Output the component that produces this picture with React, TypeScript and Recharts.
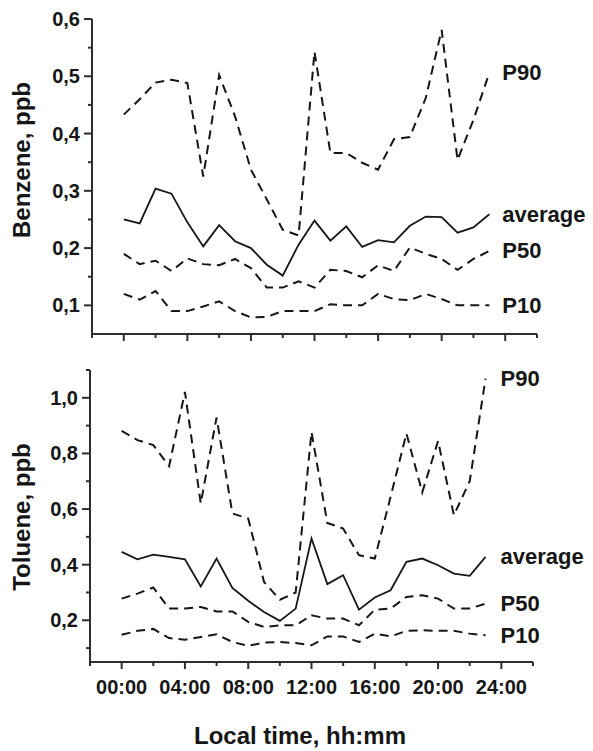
import React from 'react';
import { LineChart, Line, XAxis, YAxis, Label } from 'recharts';

const hours = [0, 1, 2, 3, 4, 5, 6, 7, 8, 9, 10, 11, 12, 13, 14, 15, 16, 17, 18, 19, 20, 21, 22, 23];

const benzeneP90 = [0.433, 0.46, 0.489, 0.494, 0.488, 0.325, 0.502, 0.43, 0.337, 0.285, 0.232, 0.222, 0.543, 0.366, 0.366, 0.349, 0.337, 0.39, 0.394, 0.462, 0.581, 0.354, 0.424, 0.506];
const benzeneAvg = [0.25, 0.243, 0.304, 0.295, 0.245, 0.203, 0.24, 0.212, 0.2, 0.171, 0.152, 0.206, 0.248, 0.213, 0.238, 0.202, 0.214, 0.21, 0.239, 0.255, 0.254, 0.227, 0.236, 0.259];
const benzeneP50 = [0.19, 0.172, 0.178, 0.16, 0.182, 0.172, 0.17, 0.181, 0.165, 0.131, 0.131, 0.142, 0.131, 0.162, 0.16, 0.149, 0.17, 0.16, 0.201, 0.19, 0.181, 0.162, 0.181, 0.195];
const benzeneP10 = [0.12, 0.11, 0.125, 0.09, 0.09, 0.098, 0.107, 0.09, 0.079, 0.08, 0.09, 0.09, 0.09, 0.102, 0.1, 0.1, 0.12, 0.111, 0.109, 0.12, 0.111, 0.1, 0.1, 0.1];

const tolueneP90 = [0.881, 0.848, 0.83, 0.754, 1.021, 0.62, 0.929, 0.584, 0.566, 0.338, 0.274, 0.3, 0.877, 0.55, 0.53, 0.434, 0.422, 0.644, 0.872, 0.66, 0.845, 0.578, 0.7, 1.069];
const tolueneAvg = [0.446, 0.419, 0.436, 0.428, 0.419, 0.322, 0.422, 0.316, 0.27, 0.23, 0.198, 0.242, 0.494, 0.33, 0.362, 0.238, 0.282, 0.308, 0.41, 0.422, 0.398, 0.368, 0.36, 0.428];
const tolueneP50 = [0.278, 0.296, 0.318, 0.242, 0.242, 0.248, 0.232, 0.232, 0.194, 0.176, 0.182, 0.182, 0.218, 0.206, 0.206, 0.182, 0.238, 0.242, 0.284, 0.29, 0.278, 0.242, 0.242, 0.26];
const tolueneP10 = [0.148, 0.162, 0.169, 0.136, 0.13, 0.14, 0.15, 0.122, 0.108, 0.12, 0.122, 0.118, 0.11, 0.142, 0.142, 0.122, 0.152, 0.142, 0.162, 0.164, 0.162, 0.162, 0.152, 0.146];

// x ticks every 2 h, labels every 4 h
const xTicks = [-2, 0, 2, 4, 6, 8, 10, 12, 14, 16, 18, 20, 22, 24, 26];
const xLabels = ['00:00', '04:00', '08:00', '12:00', '16:00', '20:00', '24:00'];
const xLabelHours = [0, 4, 8, 12, 16, 20, 24];

const benzeneTicks = [0.1, 0.15, 0.2, 0.25, 0.3, 0.35, 0.4, 0.45, 0.5, 0.55, 0.6];
const benzeneMajor = [0.1, 0.2, 0.3, 0.4, 0.5, 0.6];
const tolueneTicks = [0.1, 0.2, 0.3, 0.4, 0.5, 0.6, 0.7, 0.8, 0.9, 1.0, 1.1];
const tolueneMajor = [0.2, 0.4, 0.6, 0.8, 1.0];

const seriesNames = ['P90', 'average', 'P50', 'P10'];

const INK = '#161616';
const AXIS = '#2e2e2e';
const FONT = "'Liberation Sans', Arial, Helvetica, sans-serif";

const fmt = (v: number) => v.toFixed(1).replace('.', ',');

const makeRows = (p90: number[], avg: number[], p50: number[], p10: number[]) =>
  hours.map((h, i) => ({ hour: h, p90: p90[i], avg: avg[i], p50: p50[i], p10: p10[i] }));

const benzeneData = makeRows(benzeneP90, benzeneAvg, benzeneP50, benzeneP10);
const tolueneData = makeRows(tolueneP90, tolueneAvg, tolueneP50, tolueneP10);

const YTick = ({ x, y, payload, major }: any) => {
  const isMajor = major.includes(payload.value);
  return (
    <g>
      <line x1={x - (isMajor ? 8 : 4)} x2={x} y1={y} y2={y} stroke={AXIS} strokeWidth={2} />
      {isMajor && (
        <text x={x - 12} y={y} textAnchor="end" dominantBaseline="central"
          fontFamily={FONT} fontWeight="bold" fontSize={20} fill={INK}>
          {fmt(payload.value)}
        </text>
      )}
    </g>
  );
};

const XTick = ({ x, y, payload, showLabels }: any) => {
  const idx = xLabelHours.indexOf(payload.value);
  const isMajor = idx >= 0;
  return (
    <g>
      <line x1={x} x2={x} y1={y} y2={y + (isMajor ? 7 : 4)} stroke={AXIS} strokeWidth={2} />
      {isMajor && showLabels && (
        <text x={x} y={y + 25} textAnchor="middle" dominantBaseline="central"
          fontFamily={FONT} fontWeight="bold" fontSize={20} fill={INK}>
          {xLabels[idx]}
        </text>
      )}
    </g>
  );
};

const endLabel = (text: string, dx: number) => (props: any) => {
  if (props.index !== hours.length - 1) return null;
  const x = props.x ?? props.viewBox?.x;
  const y = props.y ?? props.viewBox?.y;
  return (
    <text x={x + dx} y={y} dominantBaseline="central"
      fontFamily={FONT} fontWeight="bold" fontSize={22} fill={INK}>
      {text}
    </text>
  );
};

const YTitle = ({ viewBox, text, cy }: any) => (
  <text x={viewBox.x + 30} y={viewBox.y + cy} textAnchor="middle"
    transform={`rotate(-90 ${viewBox.x + 30} ${viewBox.y + cy})`}
    fontFamily={FONT} fontWeight="bold" fontSize={24} fill={INK}>
    {text}
  </text>
);

const XTitle = ({ viewBox }: any) => (
  <text x={viewBox.x + 210} y={viewBox.y + 73} textAnchor="middle" dominantBaseline="central"
    fontFamily={FONT} fontWeight="bold" fontSize={24} fill={INK}>
    Local time, hh:mm
  </text>
);

const Series = (dx: number) => [
  <Line key="p90" type="linear" dataKey="p90" stroke={INK} strokeWidth={2} strokeDasharray="9 6"
    dot={false} isAnimationActive={false} label={endLabel(seriesNames[0], dx)} />,
  <Line key="avg" type="linear" dataKey="avg" stroke={INK} strokeWidth={1.8}
    dot={false} isAnimationActive={false} label={endLabel(seriesNames[1], dx)} />,
  <Line key="p50" type="linear" dataKey="p50" stroke={INK} strokeWidth={2} strokeDasharray="9 6"
    dot={false} isAnimationActive={false} label={endLabel(seriesNames[2], dx)} />,
  <Line key="p10" type="linear" dataKey="p10" stroke={INK} strokeWidth={2} strokeDasharray="9 6"
    dot={false} isAnimationActive={false} label={endLabel(seriesNames[3], dx)} />,
];

export default function App() {
  return (
    <div style={{ position: 'absolute', left: 0, top: 0, width: 593, height: 751, background: '#fff' }}>
      {/* Benzene panel */}
      <div style={{ position: 'absolute', left: 0, top: 0 }}>
        <LineChart width={593} height={360} data={benzeneData}
          margin={{ top: 19, right: 56, left: 0, bottom: 6 }}>
          <XAxis dataKey="hour" type="number" domain={[-2, 26]} ticks={xTicks} interval={0}
            axisLine={{ stroke: AXIS, strokeWidth: 2 }} tickLine={false} tickSize={0} tickMargin={0}
            height={20} tick={<XTick showLabels={false} />} />
          <YAxis type="number" domain={[0.05, 0.6]} ticks={benzeneTicks} interval={0} width={92}
            axisLine={{ stroke: AXIS, strokeWidth: 2 }} tickLine={false} tickSize={0} tickMargin={0}
            tick={<YTick major={benzeneMajor} />}
            label={<Label content={<YTitle text="Benzene, ppb" cy={141} />} />} />
          {Series(13)}
        </LineChart>
      </div>
      {/* Toluene panel */}
      <div style={{ position: 'absolute', left: 0, top: 360 }}>
        <LineChart width={593} height={391} data={tolueneData}
          margin={{ top: 10, right: 60, left: 0, bottom: 9 }}>
          <XAxis dataKey="hour" type="number" domain={[-2, 26]} ticks={xTicks} interval={0}
            axisLine={{ stroke: AXIS, strokeWidth: 2 }} tickLine={false} tickSize={0} tickMargin={0}
            height={80} tick={<XTick showLabels={true} />}
            label={<Label content={<XTitle />} />} />
          <YAxis type="number" domain={[0.05, 1.1]} ticks={tolueneTicks} interval={0} width={90}
            axisLine={{ stroke: AXIS, strokeWidth: 2 }} tickLine={false} tickSize={0} tickMargin={0}
            tick={<YTick major={tolueneMajor} />}
            label={<Label content={<YTitle text="Toluene, ppb" cy={147} />} />} />
          {Series(15)}
        </LineChart>
      </div>
    </div>
  );
}
